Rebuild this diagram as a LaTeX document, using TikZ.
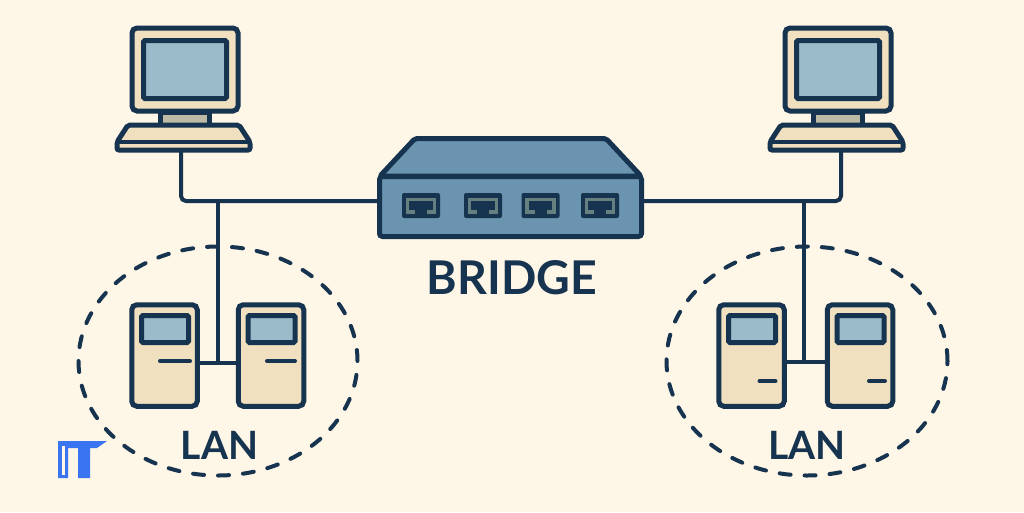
\documentclass[tikz,border=0pt]{standalone}
\usepackage{fontspec}
\usetikzlibrary{shapes.geometric}
\setmainfont{Lato}
\definecolor{paper}{HTML}{FEF6E6}
\definecolor{ink}{HTML}{16344F}
\definecolor{case}{HTML}{F0E0BF}
\definecolor{glass}{HTML}{9BBBCA}
\definecolor{neck}{HTML}{BDBBA3}
\definecolor{steel}{HTML}{6A94AF}
\definecolor{jack}{HTML}{668080}
\definecolor{logo}{HTML}{3A74F0}
\begin{document}
\begin{tikzpicture}[x=1pt,y=-1pt,
    part/.style = {draw=ink, line width=5pt, rounded corners=5pt, inner sep=0pt, outer sep=0pt},
    monitor/.style = {part, fill=case, minimum width=106pt, minimum height=83pt},
    screen/.style = {part, fill=glass, rounded corners=1.5pt, minimum width=83pt, minimum height=58pt},
    stand/.style = {part, fill=neck, rounded corners=0pt, minimum width=49pt, minimum height=14pt},
    tower/.style = {part, fill=case, minimum width=65.5pt, minimum height=101.5pt},
    display/.style = {part, fill=glass, rounded corners=1.5pt, minimum width=47pt, minimum height=27pt},
    port/.style = {fill=ink, rounded corners=2pt, inner sep=0pt, minimum width=38pt, minimum height=25pt},
    wire/.style = {draw=ink, line width=4pt},
    slot/.style = {draw=ink, line width=4pt, line cap=round},
    lan/.style = {draw=ink, line width=4pt, line cap=round, dash pattern=on 11pt off 14pt},
    label/.style = {text=ink, font=\bfseries\fontsize{39}{39}\selectfont, inner sep=0pt}]
  \fill[paper] (0,0) rectangle (1024,512);
  \useasboundingbox (0,0) rectangle (1024,512);
  % wires first
  \coordinate (kbl) at (181,150);
  \coordinate (kbr) at (841,150);
  \coordinate (tapl) at (218,201);
  \coordinate (tapr) at (804,201);
  \coordinate (midl) at (218,363);
  \coordinate (midr) at (804,362);
  % lan rings
  \node[lan, ellipse, minimum width=279pt, minimum height=229pt, inner sep=0pt] (ringl) at (218,361) {};
  \node[lan, ellipse, minimum width=281pt, minimum height=229pt, inner sep=0pt] (ringr) at (807,361) {};
  % computers
  \foreach \n/\dx in {l/0,r/653} {
    \node[stand] (neck\n) at (184.5+\dx,119) {};
    \node[monitor] (mon\n) at (185+\dx,69.5) {};
    \node[screen] (scr\n) at (185+\dx,69.5) {};
    \draw[part, fill=case, rounded corners=2pt] (128+\dx,125) -- (239+\dx,125) -- (250+\dx,142) -- (250+\dx,150) -- (117+\dx,150) -- (117+\dx,142) -- cycle;
    \draw[draw=ink, line width=4.5pt] (117+\dx,142) -- (250+\dx,142);
  }
  % bridge
  \draw[part, fill=steel, line join=round, rounded corners=2pt] (380,176) -- (415,138.5) -- (606,138.5) -- (641,176) -- cycle;
  \node[part, fill=steel, rounded corners=3pt, minimum width=262pt, minimum height=60pt] (bridge) at (510.5,206.5) {};
  \foreach \x [count=\i] in {421,483,540.5,600} {
    \node[port] (port\i) at (\x,205.5) {};
    \draw[jack, line width=3.5pt] (\x-6,212) -- (\x-13.5,212) -- (\x-13.5,199.5) -- (\x+13.5,199.5) -- (\x+13.5,212) -- (\x+6,212);
  }
  \node[label, font=\bfseries\fontsize{46.5}{46.5}\selectfont] (title) at (512,278) {BRIDGE};
  % towers
  \foreach \n/\x/\sx/\sy/\slen in {a/164.5/175/361/15,b/271/281/361/14,c/751.5/767.5/381/8,d/860/877/381/8} {
    \node[tower] (tw\n) at (\x,355.5) {};
    \node[display] (dsp\n) at (\x+0.5,329) {};
    \draw[slot] (\sx-\slen,\sy) -- (\sx+\slen,\sy);
  }
  \node[label] (lanl) at (219.5,445) {LAN};
  \node[label] (lanr) at (807,445) {LAN};
  % wiring
  \draw[wire, rounded corners=5pt] (kbl) -- (181,201) -- (bridge.west |- 0,201);
  \draw[wire, rounded corners=5pt] (kbr) -- (841,201) -- (bridge.east |- 0,201);
  \draw[wire] (tapl) -- (midl);
  \draw[wire] (tapr) -- (midr);
  \draw[wire] (twa.east |- midl) -- (twb.west |- midl);
  \draw[wire] (twc.east |- midr) -- (twd.west |- midr);
  % badge
  \fill[logo] (107,441) -- (97,448) -- (90,448) -- (90,478) -- (78,478) -- (78,448) -- (68,448) -- (68,478) -- (58,478) -- (58,441) -- cycle;
  \fill[paper] (61.5,446) rectangle (65,475);
\end{tikzpicture}
\end{document}
